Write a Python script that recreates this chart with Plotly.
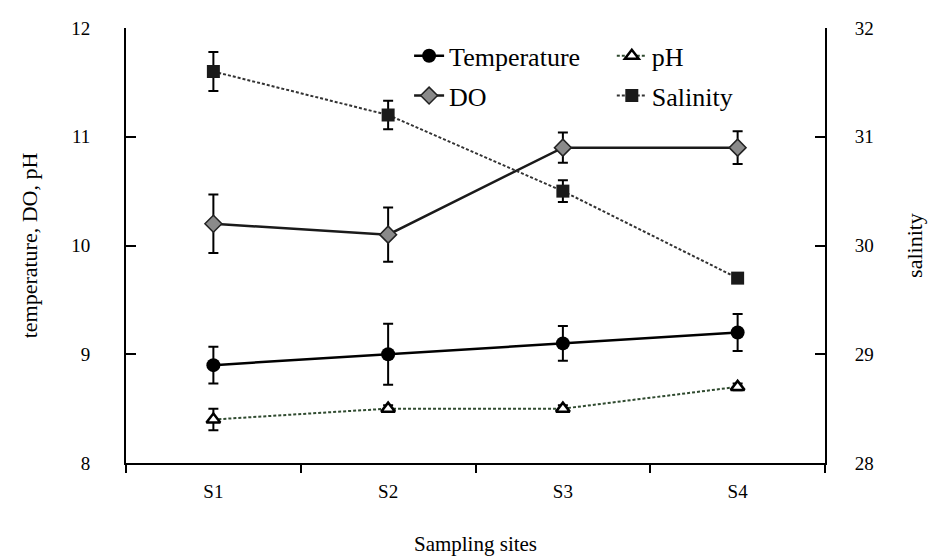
import plotly.graph_objects as go

sites = ["S1", "S2", "S3", "S4"]
temperature = [8.9, 9.0, 9.1, 9.2]
temperature_err = [0.17, 0.28, 0.16, 0.17]
ph = [8.4, 8.5, 8.5, 8.7]
ph_err = [0.1, 0.03, 0.03, 0.03]
do = [10.2, 10.1, 10.9, 10.9]
do_err = [0.27, 0.25, 0.14, 0.15]
salinity = [31.6, 31.2, 30.5, 29.7]
salinity_err = [0.18, 0.13, 0.1, 0.03]

left_ticks = [8, 9, 10, 11, 12]
right_ticks = [28, 29, 30, 31, 32]

serif = "Liberation Serif, Times New Roman, serif"

def err(vals, w=5):
    return dict(type="data", array=vals, visible=True, color="black", thickness=2, width=w)

fig = go.Figure()
fig.add_trace(go.Scatter(
    x=sites, y=temperature, name="Temperature", mode="lines+markers",
    line=dict(color="black", width=2.5),
    marker=dict(symbol="circle", size=14, color="black"),
    error_y=err(temperature_err), legend="legend", legendgroup="t"))
fig.add_trace(go.Scatter(
    x=sites, y=do, name="DO", mode="lines+markers",
    line=dict(color="#1a1a1a", width=2.5),
    marker=dict(symbol="diamond", size=13, color="#8a8a8a", line=dict(color="#222", width=1.5)),
    error_y=err(do_err), legend="legend", legendgroup="d"))
fig.add_trace(go.Scatter(
    x=sites, y=ph, name="pH", mode="lines+markers",
    line=dict(color="#2f4a2f", width=2, dash="3px,2px"),
    marker=dict(symbol="triangle-up", size=12, color="white", line=dict(color="black", width=2.5)),
    error_y=err(ph_err), legend="legend2", legendgroup="p"))
fig.add_trace(go.Scatter(
    x=sites, y=salinity, name="Salinity", mode="lines+markers", yaxis="y2",
    line=dict(color="#333", width=2, dash="3px,2px"),
    marker=dict(symbol="square", size=13, color="#1a1a1a"),
    error_y=err(salinity_err), legend="legend2", legendgroup="s"))

fig.update_layout(
    width=932, height=556,
    margin=dict(l=126, r=107, t=28, b=93, autoexpand=False),
    paper_bgcolor="white", plot_bgcolor="white",
    font=dict(family=serif, size=18, color="black"),
    showlegend=True,
    xaxis=dict(
        type="category", range=[-0.5, 3.5], showgrid=False, zeroline=False,
        showline=True, linecolor="black", linewidth=2, automargin=False,
        ticks="outside", tickson="boundaries", ticklen=8, tickwidth=2, tickcolor="black",
        tickfont=dict(family=serif, size=19), ticklabelstandoff=10,
        title=dict(text="Sampling sites", font=dict(family=serif, size=21), standoff=36),
    ),
    yaxis=dict(
        range=[8, 12], tickvals=left_ticks, showgrid=False, zeroline=False,
        showline=True, linecolor="black", linewidth=2, automargin=False,
        ticks="inside", ticklen=10, tickwidth=2, tickcolor="black",
        tickfont=dict(family=serif, size=19), ticklabelstandoff=30,
        title=dict(text="temperature, DO, pH", font=dict(family=serif, size=22), standoff=28),
    ),
    yaxis2=dict(
        range=[28, 32], tickvals=right_ticks, overlaying="y", side="right",
        showgrid=False, zeroline=False, automargin=False,
        showline=True, linecolor="black", linewidth=2,
        ticks="inside", ticklen=10, tickwidth=2, tickcolor="black",
        tickfont=dict(family=serif, size=19), ticklabelstandoff=24,
        title=dict(text="salinity", font=dict(family=serif, size=22), standoff=34),
    ),
    legend=dict(x=0.405, y=0.99, xanchor="left", yanchor="top", orientation="v",
                tracegroupgap=3, bgcolor="rgba(0,0,0,0)",
                font=dict(family=serif, size=26), itemwidth=30),
    legend2=dict(x=0.695, y=0.99, xanchor="left", yanchor="top", orientation="v",
                 tracegroupgap=3, bgcolor="rgba(0,0,0,0)",
                 font=dict(family=serif, size=26), itemwidth=30),
)

fig.write_html("out.html")
